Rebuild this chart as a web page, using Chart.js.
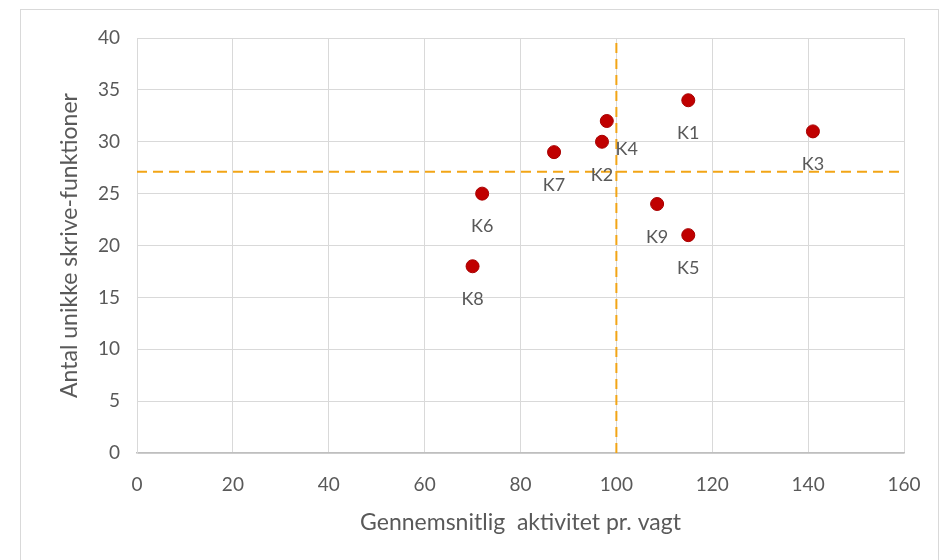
<!DOCTYPE html>
<html>
<head>
<meta charset="utf-8">
<script src="https://cdn.jsdelivr.net/npm/chart.js@4/dist/chart.umd.min.js"></script>
<style>
  html, body { margin: 0; padding: 0; background: #ffffff; }
  #wrap { width: 948px; height: 560px; position: relative; }
</style>
</head>
<body>
<div id="wrap"><canvas id="c" width="948" height="560"></canvas></div>
<script>
// Units (K1..K9): average activity per shift vs. number of unique writing functions
const unitNames = ['K1', 'K2', 'K3', 'K4', 'K5', 'K6', 'K7', 'K8', 'K9'];
const activity  = [115, 97, 141, 98, 115, 72, 87, 70, 108.5];
const functions = [34, 30, 31, 32, 21, 25, 29, 18, 24];

// Reference lines splitting the plot into quadrants
const activityRef = 100;
const functionsRef = 27.1;

const xTicks = [0, 20, 40, 60, 80, 100, 120, 140, 160];
const yTicks = [0, 5, 10, 15, 20, 25, 30, 35, 40];

const FONT = "Lato, 'Open Sans', 'Liberation Sans', sans-serif";
const TEXT = '#595959';
const GRID = '#d9d9d9';
const ORANGE = '#f2a516';

// label placement around each marker (pixels), default is below the point
const labelShift = { K4: [20, 28] };

const chartFrame = {
  id: 'chartFrame',
  beforeDraw(chart) {
    const ctx = chart.ctx;
    ctx.save();
    ctx.fillStyle = '#ffffff';
    ctx.fillRect(0, 0, chart.width, chart.height);
    ctx.strokeStyle = '#d9d9d9';
    ctx.lineWidth = 1;
    ctx.strokeRect(20.5, 9.5, 918, 570);
    ctx.restore();
  }
};

const pointLabels = {
  id: 'pointLabels',
  afterDatasetsDraw(chart) {
    const meta = chart.getDatasetMeta(0);
    const ctx = chart.ctx;
    ctx.save();
    ctx.font = "18px " + FONT;
    ctx.fillStyle = TEXT;
    ctx.textAlign = 'center';
    ctx.textBaseline = 'middle';
    meta.data.forEach((el, i) => {
      const name = unitNames[i];
      const s = labelShift[name] || [0, 33];
      ctx.fillText(name, el.x + s[0], el.y + s[1]);
    });
    ctx.restore();
  }
};

const points = unitNames.map((n, i) => ({ x: activity[i], y: functions[i] }));

new Chart(document.getElementById('c'), {
  type: 'scatter',
  data: {
    datasets: [
      {
        label: 'Enheder',
        data: points,
        order: 0,
        pointRadius: 6.5,
        pointHoverRadius: 6.5,
        backgroundColor: '#c00000',
        borderColor: '#a80000',
        borderWidth: 1
      },
      {
        label: 'Aktivitet ref',
        type: 'line',
        data: [{ x: activityRef, y: 0 }, { x: activityRef, y: 40 }],
        order: 1,
        showLine: true,
        borderColor: ORANGE,
        borderWidth: 2,
        borderDash: [10, 6],
        pointRadius: 0,
        fill: false
      },
      {
        label: 'Funktioner ref',
        type: 'line',
        data: [{ x: 0, y: functionsRef }, { x: 160, y: functionsRef }],
        order: 1,
        showLine: true,
        borderColor: ORANGE,
        borderWidth: 2,
        borderDash: [10, 6],
        pointRadius: 0,
        fill: false
      }
    ]
  },
  options: {
    responsive: false,
    animation: false,
    layout: { padding: { left: 20, top: 38, right: 44, bottom: 0 } },
    plugins: {
      legend: { display: false },
      tooltip: { enabled: false }
    },
    scales: {
      x: {
        type: 'linear',
        min: 0,
        max: 160,
        afterBuildTicks(scale) { scale.ticks = xTicks.map(v => ({ value: v })); },
        afterFit(scale) { scale.height = 107; },
        grid: { color: GRID, lineWidth: 1, drawTicks: false },
        border: { color: '#bfbfbf', width: 1.5 },
        ticks: { color: TEXT, font: { family: FONT, size: 19 }, padding: 20, maxRotation: 0 },
        title: {
          display: true,
          text: 'Gennemsnitlig  aktivitet pr. vagt',
          color: TEXT,
          font: { family: FONT, size: 23 },
          padding: { top: 24, bottom: 24 }
        }
      },
      y: {
        type: 'linear',
        min: 0,
        max: 40,
        afterBuildTicks(scale) { scale.ticks = yTicks.map(v => ({ value: v })); },
        afterFit(scale) { scale.width = 117; },
        grid: { color: GRID, lineWidth: 1, drawTicks: false },
        border: { color: GRID, width: 1 },
        ticks: { color: TEXT, font: { family: FONT, size: 19 }, padding: 17 },
        title: {
          display: true,
          text: 'Antal unikke skrive-funktioner',
          color: TEXT,
          font: { family: FONT, size: 23 },
          padding: { top: 36, bottom: 36 }
        }
      }
    }
  },
  plugins: [chartFrame, pointLabels]
});
</script>
</body>
</html>
